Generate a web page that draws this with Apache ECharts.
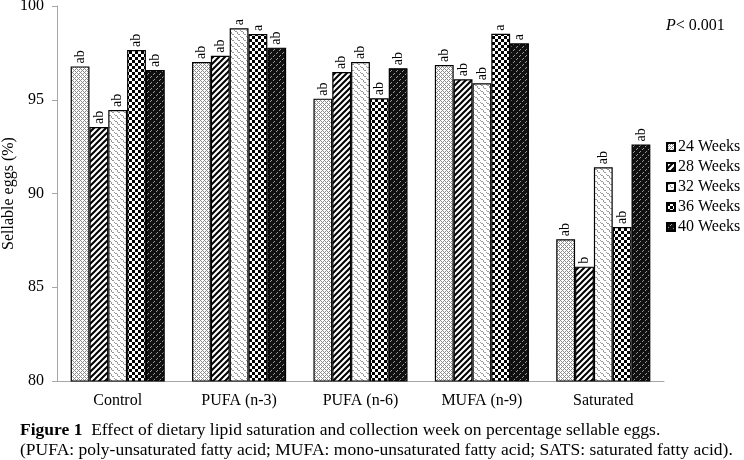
<!DOCTYPE html>
<html>
<head>
<meta charset="utf-8">
<script src="https://cdn.jsdelivr.net/npm/echarts@6/dist/echarts.min.js"></script>
<style>
html,body{margin:0;padding:0;background:#fff;}
#chart{width:744px;height:460px;}
</style>
</head>
<body>
<div id="chart"></div>
<script>
var categories = ['Control', 'PUFA (n-3)', 'PUFA (n-6)', 'MUFA (n-9)', 'Saturated'];
var seriesNames = ['24 Weeks', '28 Weeks', '32 Weeks', '36 Weeks', '40 Weeks'];
var week24 = [96.78, 97.01, 95.06, 96.85, 87.56];
var week28 = [93.55, 97.35, 96.48, 96.09, 86.10];
var week32 = [94.45, 98.81, 97.01, 95.88, 91.40];
var week36 = [97.65, 98.51, 95.08, 98.52, 88.21];
var week40 = [96.59, 97.78, 96.68, 98.01, 92.62];
var letters24 = ['ab', 'ab', 'ab', 'ab', 'ab'];
var letters28 = ['ab', 'ab', 'ab', 'ab', 'b'];
var letters32 = ['ab', 'a', 'ab', 'ab', 'ab'];
var letters36 = ['ab', 'a', 'ab', 'a', 'ab'];
var letters40 = ['ab', 'ab', 'ab', 'a', 'ab'];
var yTicks = [80, 85, 90, 95, 100];

var values = [week24, week28, week32, week36, week40];
var letters = [letters24, letters28, letters32, letters36, letters40];

function makeCanvas(size, draw) {
  var c = document.createElement('canvas');
  c.width = size; c.height = size;
  var ctx = c.getContext('2d');
  draw(ctx, size);
  return c;
}
var patterns = [
  // 24 weeks: grey diamond crosshatch
  makeCanvas(4, function (ctx, s) {
    ctx.fillStyle = '#fff'; ctx.fillRect(0, 0, s, s);
    ctx.fillStyle = '#8a8a8a';
    ctx.fillRect(0, 0, 1, 1); ctx.fillRect(2, 2, 1, 1);
    ctx.fillRect(1, 1, 1, 1); ctx.fillRect(3, 3, 1, 1);
    ctx.fillRect(3, 1, 1, 1); ctx.fillRect(1, 3, 1, 1);
  }),
  // 28 weeks: black diagonal stripes
  makeCanvas(6, function (ctx, s) {
    ctx.fillStyle = '#fff'; ctx.fillRect(0, 0, s, s);
    ctx.strokeStyle = '#000'; ctx.lineWidth = 2;
    ctx.beginPath();
    ctx.moveTo(-1, s + 1); ctx.lineTo(s + 1, -1);
    ctx.moveTo(-1, 1); ctx.lineTo(1, -1);
    ctx.moveTo(s - 1, s + 1); ctx.lineTo(s + 1, s - 1);
    ctx.stroke();
  }),
  // 32 weeks: light wavy pattern
  makeCanvas(6, function (ctx, s) {
    ctx.fillStyle = '#fff'; ctx.fillRect(0, 0, s, s);
    ctx.fillStyle = '#9a9a9a';
    ctx.fillRect(0, 0, 1, 1); ctx.fillRect(1, 1, 1, 1); ctx.fillRect(2, 1, 1, 1);
    ctx.fillRect(3, 2, 1, 1); ctx.fillRect(3, 3, 1, 1); ctx.fillRect(4, 4, 1, 1);
    ctx.fillRect(5, 4, 1, 1);
  }),
  // 36 weeks: checkerboard
  makeCanvas(6, function (ctx, s) {
    ctx.fillStyle = '#fff'; ctx.fillRect(0, 0, s, s);
    ctx.fillStyle = '#000';
    ctx.fillRect(0, 0, 3, 3); ctx.fillRect(3, 3, 3, 3);
  }),
  // 40 weeks: dark with grey diagonal dashes
  makeCanvas(6, function (ctx, s) {
    ctx.fillStyle = '#111'; ctx.fillRect(0, 0, s, s);
    ctx.fillStyle = '#9a9a9a';
    ctx.fillRect(4, 1, 1, 1); ctx.fillRect(3, 2, 1, 1);
    ctx.fillRect(1, 4, 1, 1); ctx.fillRect(0, 5, 1, 1);
  })
];

var serif = '"Liberation Serif", "DejaVu Serif", serif';

var series = seriesNames.map(function (name, i) {
  return {
    name: name,
    type: 'bar',
    barGap: '0%',
    barCategoryGap: '22.5%',
    data: values[i],
    itemStyle: {
      color: { image: patterns[i], repeat: 'repeat' },
      borderColor: '#000',
      borderWidth: 1.2
    },
    label: {
      show: true,
      position: 'top',
      rotate: 90,
      align: 'left',
      verticalAlign: 'middle',
      distance: 3,
      fontFamily: serif,
      fontSize: 14,
      color: '#000',
      formatter: function (p) { return letters[i][p.dataIndex]; }
    }
  };
});

var chart = echarts.init(document.getElementById('chart'), null, { renderer: 'canvas' });
chart.setOption({
  animation: false,
  backgroundColor: '#fff',
  grid: { left: 57, right: 80, top: 6, bottom: 79, containLabel: false, outerBoundsMode: 'none' },
  legend: {
    orient: 'vertical',
    left: 666,
    top: 139,
    padding: 0,
    itemWidth: 8,
    itemHeight: 8,
    itemGap: 4,
    icon: 'rect',
    data: seriesNames,
    textStyle: { fontFamily: serif, fontSize: 16, color: '#000', padding: [0, 0, 0, -2], lineHeight: 16 }
  },
  xAxis: {
    type: 'category',
    data: categories,
    axisLine: { lineStyle: { color: '#a6a6a6', width: 1 } },
    axisTick: { show: false },
    axisLabel: { fontFamily: serif, fontSize: 16, color: '#000', margin: 12 }
  },
  yAxis: {
    type: 'value',
    min: 80,
    max: 100,
    interval: 5,
    name: 'Sellable eggs (%)',
    nameLocation: 'middle',
    nameGap: 40,
    nameRotate: 90,
    nameMoveOverlap: false,
    nameTextStyle: { fontFamily: serif, fontSize: 16, color: '#000' },
    splitLine: { show: false },
    axisLine: { show: true, lineStyle: { color: '#a6a6a6', width: 1 } },
    axisTick: { show: true, length: 5, lineStyle: { color: '#a6a6a6' } },
    axisLabel: {
      fontFamily: serif, fontSize: 16, color: '#000', margin: 13,
      formatter: function (v) { return yTicks.indexOf(v) >= 0 ? String(v) : ''; }
    }
  },
  graphic: [
    {
      type: 'text', left: 666, top: 18,
      style: {
        text: '{i|P}< 0.001',
        rich: { i: { fontStyle: 'italic', fontFamily: serif, fontSize: 16 } },
        fontFamily: serif, fontSize: 16, fill: '#000'
      }
    },
    {
      type: 'text', left: 20, top: 421,
      style: {
        text: '{b|Figure 1}  Effect of dietary lipid saturation and collection week on percentage sellable eggs.',
        rich: { b: { fontWeight: 'bold', fontFamily: serif, fontSize: 17.5 } },
        fontFamily: serif, fontSize: 17.5, fill: '#000'
      }
    },
    {
      type: 'text', left: 20, top: 441,
      style: {
        text: '(PUFA: poly-unsaturated fatty acid; MUFA: mono-unsaturated fatty acid; SATS: saturated fatty acid).',
        fontFamily: serif, fontSize: 17.5, fill: '#000'
      }
    }
  ],
  series: series
});
</script>
</body>
</html>
